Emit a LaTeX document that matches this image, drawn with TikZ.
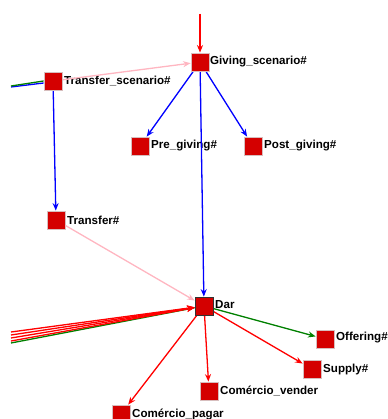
\documentclass[tikz,border=0pt]{standalone}
\usepackage{fontspec}
\setmainfont{Liberation Sans}
\usetikzlibrary{arrows.meta,calc}
\definecolor{nodered}{RGB}{212,0,0}
\definecolor{nodeedge}{RGB}{215,190,190}
\definecolor{pinkedge}{RGB}{255,182,193}
\definecolor{greenedge}{RGB}{0,128,0}
\begin{document}
\begin{tikzpicture}[x=1pt,y=-1pt,
  concept/.style={rectangle,minimum size=18pt,inner sep=0pt,fill=nodered,draw=nodeedge,line width=0.8pt},
  mainconcept/.style={concept,draw=black!80},
  lbl/.style={anchor=west,inner sep=0pt,font=\fontsize{11.6}{13}\selectfont\bfseries},
  edge/.style={line width=1.3pt,-{Stealth[length=7.5pt,width=6pt]}},
  rededge/.style={edge,draw=red,fill=red},
  blueedge/.style={edge,draw=blue,fill=blue},
  greenarrow/.style={edge,draw=greenedge,fill=greenedge},
  pinkarrow/.style={edge,draw=pinkedge,fill=pinkedge},
  pinkline/.style={line width=1.3pt,draw=pinkedge}
]
\useasboundingbox (0,0) rectangle (387,419);
% nodes
\node[concept] (gs) at (200,62) {};
\node[lbl] (gsl) at (210,62) {Giving\_scenario\#};
\node[concept] (ts) at (53,81) {};
\node[lbl] (tsl) at (64,81) {Transfer\_scenario\#};
\node[concept] (pre) at (140,146) {};
\node[lbl] (prel) at (151,146) {Pre\_giving\#};
\node[concept] (post) at (253,146) {};
\node[lbl] (postl) at (264,146) {Post\_giving\#};
\node[concept] (tr) at (56,220) {};
\node[lbl] (trl) at (67,220) {Transfer\#};
\node[mainconcept] (dar) at (204,306) {};
\node[lbl] (darl) at (215,305) {Dar};
\node[concept] (off) at (325,339) {};
\node[lbl] (offl) at (336,338) {Offering\#};
\node[concept] (sup) at (312,369) {};
\node[lbl] (supl) at (323,369) {Supply\#};
\node[concept] (cv) at (209,391) {};
\node[lbl] (cvl) at (220,391) {Comércio\_vender};
\node[concept] (cp) at (121,414) {};
\node[lbl] (cpl) at (132,414) {Comércio\_pagar};
% free ends
\coordinate (top) at (200,14);
\coordinate (lg) at (11,86);
\coordinate (l1) at (11,332);
\coordinate (l2) at (11,335);
\coordinate (l3) at (11,338);
\coordinate (l4) at (11,341);
\coordinate (l5) at (11,343);
% edges
\draw[rededge] (top) -- (gs);
\draw[line width=1.3pt,draw=blue] ($(lg)+(0,1)$) -- ($(ts.west)+(0,2)$);
\draw[line width=1.3pt,draw=greenedge] (lg) -- (ts.west);
\draw[pinkarrow] (ts) -- (gs);
\draw[blueedge] (gs) -- (pre);
\draw[blueedge] (gs) -- (post);
\draw[blueedge] (gs) -- (dar);
\draw[blueedge] (ts) -- (tr);
\draw[pinkarrow] (tr) -- (dar);
\draw[line width=1.3pt,draw=greenedge] (l5) -- (dar);
\draw[rededge] (l4) -- (dar);
\draw[rededge] (l3) -- (dar);
\draw[rededge] (l2) -- (dar);
\draw[rededge] (l1) -- (dar);
\draw[greenarrow] (dar) -- (off);
\draw[rededge] (dar) -- (sup);
\draw[rededge] (dar) -- (cv);
\draw[rededge] (dar) -- (cp);
% redraw nodes on top
\node[concept] at (gs) {};
\node[concept] at (ts) {};
\node[mainconcept] at (dar) {};
\end{tikzpicture}
\end{document}
